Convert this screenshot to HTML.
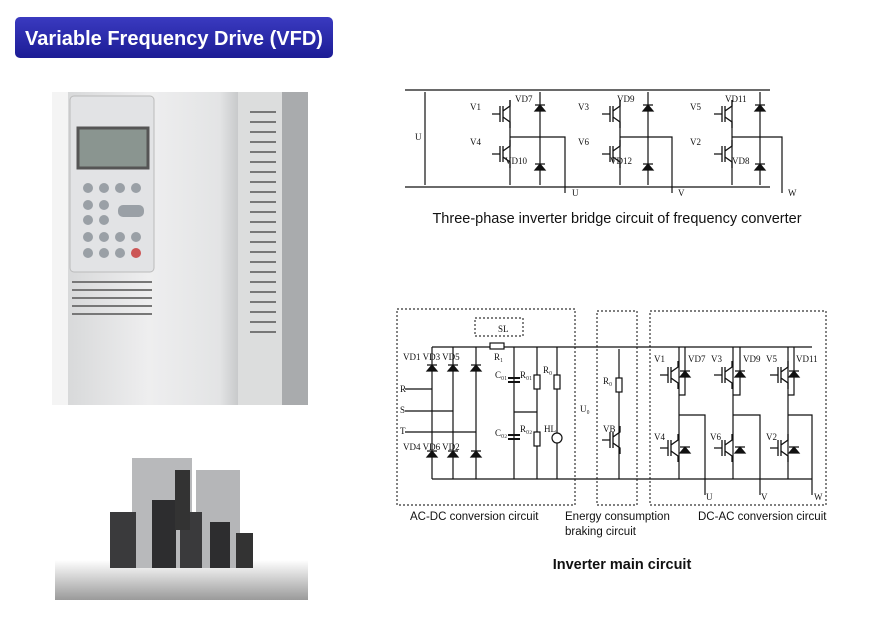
<!DOCTYPE html>
<html><head><style>
body{margin:0;background:#fff;width:887px;height:638px;overflow:hidden;font-family:"Liberation Sans",sans-serif}
svg{position:absolute;left:0;top:0}
</style></head><body>
<svg width="887" height="638" viewBox="0 0 887 638" font-family="Liberation Serif, serif">
<defs>
<linearGradient id="btn" x1="0" y1="0" x2="0" y2="1"><stop offset="0" stop-color="#3a3ac0"/><stop offset="1" stop-color="#1c1c95"/></linearGradient>
<linearGradient id="cab" x1="0" y1="0" x2="1" y2="0"><stop offset="0" stop-color="#d8d9da"/><stop offset=".4" stop-color="#eeeeef"/><stop offset=".75" stop-color="#e3e4e5"/><stop offset="1" stop-color="#9a9c9e"/></linearGradient>
<linearGradient id="flr" x1="0" y1="0" x2="0" y2="1"><stop offset="0" stop-color="#fff"/><stop offset="1" stop-color="#9a9a9a"/></linearGradient>
<g id="igbt" stroke="#111" fill="none" stroke-width="1.3"><path d="M0 -8V8M3 -8V8M-8 0H0M3 -3L10 -8V-14M3 3L10 8V14"/></g>
<g id="dio" stroke="#111" fill="#111" stroke-width="1.2"><path d="M-5 -3H5M-5 3H5L0 -3Z"/></g>
</defs>
<rect x="15" y="17" width="318" height="41" rx="5" fill="url(#btn)"/>
<text x="174" y="45" text-anchor="middle" fill="#fff" font-family="Liberation Sans,sans-serif" font-weight="bold" font-size="20">Variable Frequency Drive (VFD)</text>

<!-- VFD photo -->
<rect x="52" y="92" width="256" height="313" fill="#f4f4f4"/>
<path d="M68 92H238Q262 92 270 140V405H68Z" fill="url(#cab)"/>
<rect x="270" y="92" width="38" height="313" fill="#a9abad"/>
<rect x="238" y="92" width="44" height="313" fill="#dcdddd"/>
<g stroke="#777" stroke-width="2"><path d="M250 112h26M250 122h26M250 132h26M250 142h26M250 152h26M250 162h26M250 172h26M250 182h26M250 192h26M250 202h26M250 212h26M250 222h26M250 232h26M250 242h26M250 252h26M250 262h26M250 272h26M250 282h26M250 292h26M250 302h26M250 312h26M250 322h26M250 332h26"/>
<path d="M72 282h80M72 290h80M72 298h80M72 306h80M72 314h80"/></g>
<rect x="70" y="96" width="84" height="176" rx="4" fill="#e2e3e5" stroke="#bbb"/>
<rect x="78" y="128" width="70" height="40" fill="#8a9590" stroke="#555" stroke-width="3"/>
<g fill="#9aa0a6"><circle cx="88" cy="188" r="5"/><circle cx="104" cy="188" r="5"/><circle cx="120" cy="188" r="5"/><circle cx="136" cy="188" r="5"/><circle cx="88" cy="205" r="5"/><circle cx="104" cy="205" r="5"/><circle cx="88" cy="220" r="5"/><circle cx="104" cy="220" r="5"/><circle cx="88" cy="237" r="5"/><circle cx="104" cy="237" r="5"/><circle cx="120" cy="237" r="5"/><circle cx="136" cy="237" r="5"/><circle cx="88" cy="253" r="5"/><circle cx="104" cy="253" r="5"/><circle cx="120" cy="253" r="5"/><circle cx="136" cy="253" r="5" fill="#c55"/><rect x="118" y="205" width="26" height="12" rx="5"/></g>

<!-- lower photo -->
<rect x="55" y="560" width="253" height="40" fill="url(#flr)"/>
<rect x="132" y="458" width="60" height="110" fill="#b8b9bb"/><rect x="196" y="470" width="44" height="98" fill="#b5b6b8"/>
<rect x="110" y="512" width="26" height="56" fill="#3a3a3c"/><rect x="152" y="500" width="24" height="68" fill="#2d2d2f"/><rect x="180" y="512" width="22" height="56" fill="#3a3a3c"/><rect x="210" y="522" width="20" height="46" fill="#2d2d2f"/><rect x="236" y="533" width="17" height="35" fill="#333"/>
<rect x="175" y="470" width="15" height="60" fill="#333"/>

<g font-size="9" fill="#111" stroke-width="1.2">
<!-- top circuit -->
<g stroke="#111" fill="none"><path d="M405 90H770M405 187H770M425 92V185M510 100V185M540 92V185M510 137H565V193M620 100V185M648 92V185M620 137H672V193M732 100V185M760 92V185M732 137H782V193"/></g>
<use href="#igbt" x="500" y="114"/><use href="#igbt" x="500" y="154"/><use href="#igbt" x="610" y="114"/><use href="#igbt" x="610" y="154"/><use href="#igbt" x="722" y="114"/><use href="#igbt" x="722" y="154"/>
<use href="#dio" x="540" y="108"/><use href="#dio" x="540" y="167"/><use href="#dio" x="648" y="108"/><use href="#dio" x="648" y="167"/><use href="#dio" x="760" y="108"/><use href="#dio" x="760" y="167"/>
<text x="470" y="110">V1</text><text x="470" y="145">V4</text><text x="515" y="102">VD7</text><text x="505" y="164">VD10</text>
<text x="578" y="110">V3</text><text x="578" y="145">V6</text><text x="617" y="102">VD9</text><text x="610" y="164">VD12</text>
<text x="690" y="110">V5</text><text x="690" y="145">V2</text><text x="725" y="102">VD11</text><text x="732" y="164">VD8</text>
<text x="415" y="140">U</text><text x="572" y="196">U</text><text x="678" y="196">V</text><text x="788" y="196">W</text>

<!-- bottom circuit -->
<g stroke="#333" fill="none" stroke-dasharray="2 2"><rect x="397" y="309" width="178" height="196"/><rect x="597" y="311" width="40" height="194"/><rect x="650" y="311" width="176" height="194"/><rect x="475" y="318" width="48" height="18"/></g>
<g stroke="#111" fill="none"><path d="M432 347H812M432 479H812M432 347V479M453 347V479M476 347V479M405 389H432M405 411H453M405 432H476M514 347V479M537 347V479M557 347V479M514 412H537M619 349V479M679 347V479M733 347V479M788 347V479M685 347V395H679M740 347V395H733M794 347V395H788M679 415H705V495M733 415H760V495M788 415H812V495"/></g>
<use href="#dio" x="432" y="368"/><use href="#dio" x="453" y="368"/><use href="#dio" x="476" y="368"/><use href="#dio" x="432" y="454"/><use href="#dio" x="453" y="454"/><use href="#dio" x="476" y="454"/>
<use href="#dio" x="685" y="374"/><use href="#dio" x="740" y="374"/><use href="#dio" x="794" y="374"/><use href="#dio" x="685" y="450"/><use href="#dio" x="740" y="450"/><use href="#dio" x="794" y="450"/>
<use href="#igbt" x="668" y="375"/><use href="#igbt" x="722" y="375"/><use href="#igbt" x="778" y="375"/><use href="#igbt" x="668" y="448"/><use href="#igbt" x="722" y="448"/><use href="#igbt" x="778" y="448"/><use href="#igbt" x="610" y="440"/>
<g fill="#fff" stroke="#111"><rect x="534" y="375" width="6" height="14"/><rect x="554" y="375" width="6" height="14"/><rect x="534" y="432" width="6" height="14"/><rect x="616" y="378" width="6" height="14"/><rect x="490" y="343" width="14" height="6"/><circle cx="557" cy="438" r="5"/></g>
<g stroke="#111" stroke-width="2"><path d="M508 378h12M508 382h12M508 435h12M508 439h12"/></g>
<text x="403" y="360">VD1 VD3 VD5</text><text x="403" y="450">VD4 VD6 VD2</text><text x="400" y="392">R</text><text x="400" y="413">S</text><text x="400" y="434">T</text>
<text x="498" y="332">SL</text><text x="494" y="360">R₁</text><text x="495" y="378">C₀₁</text><text x="520" y="378">R₀₁</text><text x="543" y="373">R₀</text><text x="495" y="436">C₀₂</text><text x="520" y="432">R₀₂</text><text x="544" y="432">HL</text>
<text x="580" y="412">U₀</text><text x="603" y="384">R₀</text><text x="603" y="432">VB</text>
<text x="654" y="362">V1</text><text x="688" y="362">VD7</text><text x="711" y="362">V3</text><text x="743" y="362">VD9</text><text x="766" y="362">V5</text><text x="796" y="362">VD11</text>
<text x="654" y="440">V4</text><text x="710" y="440">V6</text><text x="766" y="440">V2</text>
<text x="706" y="500">U</text><text x="761" y="500">V</text><text x="814" y="500">W</text>
</g>

<g font-family="Liberation Sans,sans-serif" fill="#111">
<text x="617" y="223" text-anchor="middle" font-size="14.5">Three-phase inverter bridge circuit of frequency converter</text>
<text x="410" y="520" font-size="11.5">AC-DC conversion circuit</text>
<text x="565" y="520" font-size="11.5">Energy consumption</text>
<text x="565" y="535" font-size="11.5">braking circuit</text>
<text x="698" y="520" font-size="11.5">DC-AC conversion circuit</text>
<text x="622" y="569" text-anchor="middle" font-size="14.5" font-weight="bold">Inverter main circuit</text>
</g>
</svg>
</body></html>
